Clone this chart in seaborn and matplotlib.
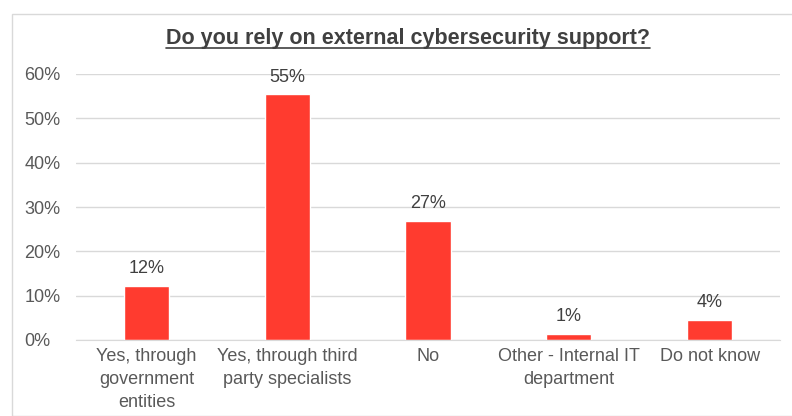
import matplotlib
matplotlib.use("Agg")
import matplotlib.pyplot as plt
import seaborn as sns
import pandas as pd
from matplotlib.patches import Rectangle
from matplotlib.lines import Line2D

categories = ["Yes, through\ngovernment\nentities", "Yes, through third\nparty specialists",
              "No", "Other - Internal IT\ndepartment", "Do not know"]
values = [12.1, 55.4, 26.9, 1.4, 4.6]
labels = ["12%", "55%", "27%", "1%", "4%"]
yticks = [0, 10, 20, 30, 40, 50, 60]

df = pd.DataFrame({"cat": categories, "val": values})

sns.set_style("white")
plt.rcParams['font.family'] = ['Liberation Sans', 'DejaVu Sans']

fig = plt.figure(figsize=(7.92, 4.16), dpi=100)
ax = fig.add_axes([76/792, 1 - 340/416, 704/792, 266/416])

sns.barplot(data=df, x="cat", y="val", color="#FF3B2F", width=0.32, ax=ax, saturation=1)

ax.set_ylim(0, 60)
ax.set_yticks(yticks)
ax.set_yticklabels([f"{t}%" for t in yticks], fontsize=13, color="#595959")
ax.tick_params(axis='x', labelsize=13, labelcolor="#595959", length=0, pad=6)
for t in ax.get_xticklabels():
    t.set_linespacing(1.45)
ax.tick_params(axis='y', length=0, pad=37)
for t in ax.get_yticklabels():
    t.set_horizontalalignment("left")
ax.set_xlabel("")
ax.set_ylabel("")
ax.yaxis.grid(True, color="#d9d9d9", linewidth=1)
ax.set_axisbelow(True)
for s in ["top", "right", "left"]:
    ax.spines[s].set_visible(False)
ax.spines["bottom"].set_color("#d9d9d9")

for i, (v, lab) in enumerate(zip(values, labels)):
    ax.text(i, v + 2.0, lab, ha="center", va="bottom", fontsize=13, color="#404040")

title = fig.text(408/792, 1 - 44/416, "Do you rely on external cybersecurity support?",
                 ha="center", va="baseline", fontsize=15.5, fontweight="bold", color="#404040")
fig.canvas.draw()
bb = title.get_window_extent().transformed(fig.transFigure.inverted())
uy = 1 - 48/416
fig.add_artist(Line2D([bb.x0, bb.x1], [uy, uy], color="#404040", linewidth=1.2,
                      transform=fig.transFigure))

fig.add_artist(Rectangle((12/792, 0), 1, 1 - 14/416, fill=False, edgecolor="#d9d9d9",
                         linewidth=1, transform=fig.transFigure))

fig.savefig("out.png", dpi=100)
